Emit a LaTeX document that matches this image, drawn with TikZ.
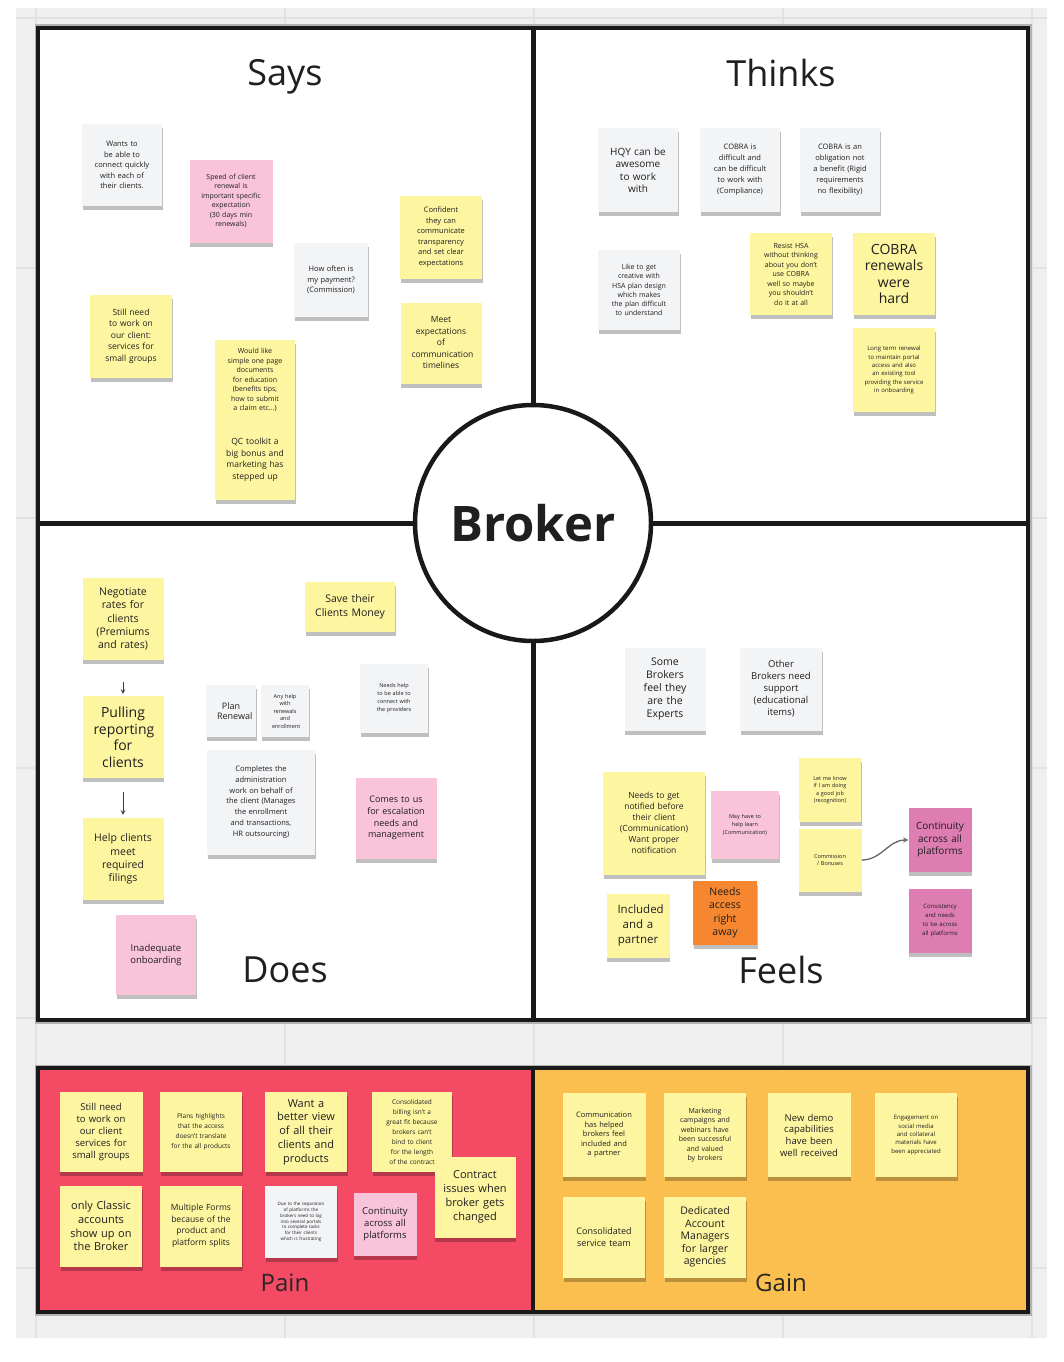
\documentclass[tikz,border=0pt]{standalone}
\usepackage{fontspec}
\setmainfont{Open Sans}
\usepackage{xcolor}
\usepackage{tikz}
\usetikzlibrary{shapes,arrows,positioning,shadows}

\definecolor{board}{HTML}{EFEFEF}
\definecolor{gridgray}{HTML}{E2E2E2}
\definecolor{stickyyel}{HTML}{FEF5A0}
\definecolor{stickygray}{HTML}{F3F4F6}
\definecolor{stickypink}{HTML}{F9C3DA}
\definecolor{stickymag}{HTML}{DD7DB2}
\definecolor{stickyorange}{HTML}{F6862F}
\definecolor{painred}{HTML}{F44A64}
\definecolor{gainorange}{HTML}{FBBF4F}

\hyphenpenalty=10000
\exhyphenpenalty=10000

\begin{document}
\begin{tikzpicture}[
    x=1pt, y=-1pt,
    note/.style={rectangle, align=center, inner sep=0pt, text=black!88,
        drop shadow={shadow xshift=0.5pt, shadow yshift=-4pt, opacity=0.25, fill=black}},
    sz/.style n args={2}{minimum width=#1pt, minimum height=#2pt, text width=#1pt-22pt},
    fs/.style 2 args={font=\fontsize{#1}{#2}\selectfont},
    yel/.style={note, fill=stickyyel},
    gry/.style={note, fill=stickygray},
    pnk/.style={note, fill=stickypink},
    mag/.style={note, fill=stickymag},
    org/.style={note, fill=stickyorange},
    quadtitle/.style={font=\fontsize{36}{40}\selectfont, text=black!88},
    boxtitle/.style={font=\fontsize{24}{28}\selectfont, text=black!85},
    frame/.style={line width=4pt, draw=black!90},
    flow/.style={-stealth, line width=1pt, black!75},
    curvy/.style={-stealth, line width=1.3pt, black!60}
]
\useasboundingbox (0,0) rectangle (1064,1362);
\fill[white] (0,0) rectangle (1064,1362);
\fill[board] (16,8) rectangle (1047,1338);
\foreach \gx in {36,285,534,783,1032}
    \draw[gridgray, line width=1.5pt] (\gx,8) -- (\gx,1338);
\foreach \gy in {18,268,518,768,1018,1268}
    \draw[gridgray, line width=1.5pt] (16,\gy) -- (1047,\gy);

% empathy map
\draw[black!30, line width=7pt] (38,28) rectangle (1028,1020);
\draw[frame, fill=white] (38,28) rectangle (1028,1020);
\draw[line width=5pt, black!90] (38,523) -- (1028,523);
\draw[line width=5pt, black!90] (533,28) -- (533,1020);
\node[draw=black!90, circle, fill=white, line width=4.5pt, minimum size=236pt,
    font=\fontsize{49}{55}\selectfont\bfseries, text=black!88] (broker) at (533,523) {Broker};

\node[quadtitle] (says) at (285,77) {Says};
\node[quadtitle] (thinks) at (781,73) {Thinks};
\node[quadtitle] (does) at (285,970) {Does};
\node[quadtitle] (feels) at (781,970) {Feels};

% pain and gain
\draw[black!30, line width=7pt] (38,1068) rectangle (1028,1312);
\draw[frame, fill=painred] (38,1068) rectangle (533,1312);
\draw[frame, fill=gainorange] (533,1068) rectangle (1028,1312);
\node[boxtitle] (pain) at (285,1283) {Pain};
\node[boxtitle] (gain) at (781,1283) {Gain};

% says
\node[gry, sz={80}{82}, fs={7.5}{10.5}] (s1) at (122,165) {Wants to be able to connect quickly with each of their clients.};
\node[pnk, sz={83}{83}, fs={7}{9.5}] (s2) at (231,201) {Speed of client renewal is important specific expectation (30 days min renewals)};
\node[yel, sz={82}{83}, fs={8.5}{11.5}] (s3) at (131,336) {Still need to work on our client: services for small groups};
\node[yel, sz={80}{80}, fs={7}{9.5}] (s4) at (255,380) {Would like simple one page documents for education (benefits tips, how to submit a claim etc...)};
\node[yel, sz={80}{80}, fs={8.5}{11.5}] (s5) at (255,460) {QC toolkit a big bonus and marketing has stepped up};
\node[gry, sz={74}{74}, fs={7.5}{10.5}] (s6) at (331,280) {How often is my payment? (Commission)};
\node[yel, sz={82}{83}, fs={7.5}{10.5}] (s7) at (441,237) {Confident they can communicate transparency and set clear expectations};
\node[yel, sz={81}{81}, fs={8.5}{11.5}] (s8) at (441,343) {Meet expectations of communication timelines};

% thinks
\node[gry, sz={80}{84}, fs={10}{12.5}, text width=56pt] (t1) at (638,170) {HQY can be awesome to work with};
\node[gry, sz={80}{84}, fs={7.5}{11}] (t2) at (740,170) {COBRA is difficult and can be difficult to work with (Compliance)};
\node[gry, sz={80}{84}, fs={7.5}{11}] (t3) at (840,170) {COBRA is an obligation not a benefit (Rigid requirements no flexibility)};
\node[gry, sz={82}{80}, fs={7}{9.2}] (t4) at (639,290) {Like to get creative with HSA plan design which makes the plan difficult to understand};
\node[yel, sz={82}{82}, fs={7}{9.5}] (t5) at (791,274) {Resist HSA without thinking about you don't use COBRA well so maybe you shouldn't do it at all};
\node[yel, sz={82}{82}, fs={14}{16.5}] (t6) at (894,274) {COBRA renewals were hard};
\node[yel, sz={82}{84}, fs={6}{8.3}] (t7) at (894,370) {Long term renewal to maintain portal access and also an existing tool providing the service in onboarding};

% does
\node[yel, sz={81}{82}, fs={10.5}{13.3}] (d1) at (123,619) {Negotiate rates for clients (Premiums and rates)};
\node[yel, sz={81}{82}, fs={14}{16.5}] (d2) at (123,737) {Pulling reporting for clients};
\node[yel, sz={81}{82}, fs={10.5}{13.3}] (d3) at (123,859) {Help clients meet required filings};
\node[pnk, sz={80}{80}, fs={9.5}{12}] (d4) at (156,955) {Inadequate onboarding};
\node[yel, sz={90}{50}, fs={10.5}{14}, text width=82pt] (d5) at (350,607) {Save their Clients Money};
\node[gry, sz={50}{52}, fs={9}{10.5}] (d6) at (231,711) {Plan Renewal};
\node[gry, sz={48}{52}, fs={5.5}{7.5}] (d7) at (285,711) {Any help with renewals and enrollment};
\node[gry, sz={68}{69}, fs={5.5}{8}] (d8) at (394,698) {Needs help to be able to connect with the providers};
\node[gry, sz={108}{105}, fs={7.5}{10.8}] (d9) at (261,802) {Completes the administration work on behalf of the client (Manages the enrollment and transactions, HR outsourcing)};
\node[pnk, sz={81}{81}, fs={9}{11.7}] (d10) at (396,818) {Comes to us for escalation needs and management};
\draw[flow, shorten <=22pt, shorten >=2pt] (d1) -- (d2);
\draw[flow, shorten <=14pt, shorten >=3pt] (d2) -- (d3);

% feels
\node[gry, sz={81}{83}, fs={10.5}{13}] (f1) at (665,689) {Some Brokers feel they are the Experts};
\node[gry, sz={82}{83}, fs={9.5}{12}] (f2) at (781,689) {Other Brokers need support (educational items)};
\node[yel, sz={102}{103}, fs={8.5}{11}] (f3) at (654,823) {Needs to get notified before their client (Communication) Want proper notification};
\node[pnk, sz={68}{68}, fs={5.5}{7.8}] (f4) at (745,825) {May have to help learn (Communication)};
\node[yel, sz={62}{64}, fs={5.5}{7.6}] (f5) at (830,790) {Let me know if I am doing a good job (recognition)};
\node[yel, sz={63}{63}, fs={5.5}{7.6}] (f6) at (830,860) {Commission / Bonuses};
\node[mag, sz={63}{64}, fs={10}{12.5}, text width=56pt] (f7) at (940,840) {Continuity across all platforms};
\node[mag, sz={63}{64}, fs={6}{9}] (f8) at (940,921) {Consistency and needs to be across all platforms};
\node[yel, sz={63}{64}, fs={11.5}{15}] (f9) at (638,926) {Included and a partner};
\node[org, sz={64}{64}, fs={10.5}{13.5}] (f10) at (725,913) {Needs access right away};
\draw[curvy] (f6.east) to[out=0, in=180] (f7.west);

% pain notes
\node[yel, sz={83}{80}, fs={9.5}{12}] (p1) at (101,1132) {Still need to work on our client services for small groups};
\node[yel, sz={82}{80}, fs={6.5}{10}] (p2) at (201,1132) {Plans highlights that the access doesn't translate for the all products};
\node[yel, sz={82}{80}, fs={11}{13.7}, text width=70pt] (p3) at (306,1132) {Want a better view of all their clients and products};
\node[yel, sz={80}{80}, fs={6.5}{10}] (p4) at (412,1132) {Consolidated billing isn't a great fit because brokers can't bind to client for the length of the contract};
\node[yel, sz={81}{81}, fs={11}{14}, text width=64pt] (p5) at (475,1197) {Contract issues when broker gets changed};
\node[yel, sz={82}{81}, fs={11}{13.8}, text width=72pt] (p6) at (101,1226) {only Classic accounts show up on the Broker};
\node[yel, sz={82}{81}, fs={8.5}{11.5}, text width=72pt] (p7) at (201,1226) {Multiple Forms because of the product and platform splits};
\node[gry, sz={72}{72}, fs={4.5}{5.8}] (p8) at (301,1222) {Due to the separation of platforms the brokers need to log into several portals to complete tasks for their clients which is frustrating};
\node[pnk, sz={63}{63}, fs={9.5}{12}, text width=56pt] (p9) at (385,1224) {Continuity across all platforms};

% gain notes
\node[yel, sz={83}{84}, fs={7.5}{9.5}] (g1) at (604,1135) {Communication has helped brokers feel included and a partner};
\node[yel, sz={82}{84}, fs={7}{9.5}] (g2) at (705,1135) {Marketing campaigns and webinars have been successful and valued by brokers};
\node[yel, sz={83}{84}, fs={9.5}{11.7}] (g3) at (809,1135) {New demo capabilities have been well received};
\node[yel, sz={82}{84}, fs={6}{8.3}] (g4) at (916,1135) {Engagement on social media and collateral materials have been appreciated};
\node[yel, sz={82}{81}, fs={9}{11.7}] (g5) at (604,1237) {Consolidated service team};
\node[yel, sz={82}{81}, fs={10.5}{12.5}] (g6) at (705,1237) {Dedicated Account Managers for larger agencies};
\end{tikzpicture}
\end{document}
